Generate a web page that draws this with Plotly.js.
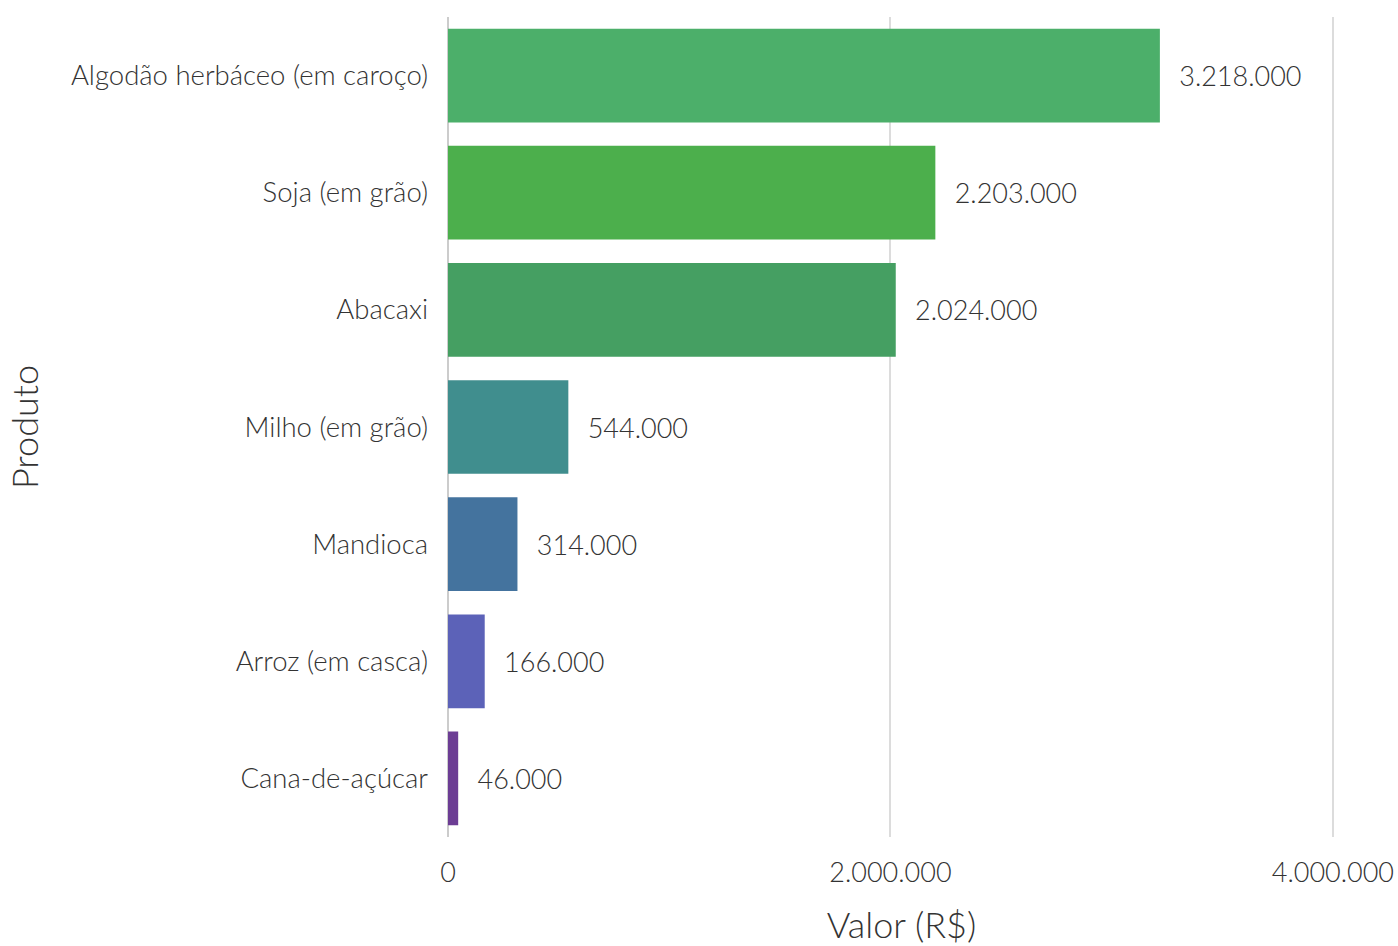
<!DOCTYPE html>
<html>
<head>
<meta charset="utf-8">
<script src="https://cdn.plot.ly/plotly-3.0.1.min.js"></script>
<style>html,body{margin:0;padding:0;background:#fff;}#chart{width:1398px;height:946px;}</style>
</head>
<body>
<div id="chart"></div>
<script>
const produtos = ["Algodão herbáceo (em caroço)", "Soja (em grão)", "Abacaxi", "Milho (em grão)", "Mandioca", "Arroz (em casca)", "Cana-de-açúcar"];
const valores = [3218000, 2203000, 2024000, 544000, 314000, 166000, 46000];
const cores = ["#4caf6a", "#4caf4c", "#459f62", "#408e8e", "#44739e", "#5c62b8", "#6c3d94"];

function fmt(v){ return v.toString().replace(/\B(?=(\d{3})+(?!\d))/g, "."); }

const trace = {
  type: "bar",
  orientation: "h",
  y: produtos,
  x: valores,
  marker: {color: cores},
  text: valores.map(v => "\u00A0\u00A0\u200A" + fmt(v)),
  textposition: "outside",
  cliponaxis: false,
  textfont: {family: "Lato", size: 27, color: "#333", weight: 300},
  hoverinfo: "none"
};

const layout = {
  width: 1398, height: 946,
  margin: {l: 448, r: 43, t: 17, b: 109},
  paper_bgcolor: "#fff", plot_bgcolor: "#fff",
  separators: ",.",
  bargap: 0.2,
  showlegend: false,
  font: {family: "Lato", color: "#333", weight: 300},
  xaxis: {
    range: [0, 4100000],
    tickvals: [0, 2000000, 4000000],
    ticktext: ["0", "2.000.000", "4.000.000"],
    showgrid: true, gridcolor: "#dcdcdc", gridwidth: 2,
    zeroline: true, zerolinecolor: "#cccccc", zerolinewidth: 2,
    showline: false, ticks: "",
    ticklabelstandoff: 17,
    tickfont: {family: "Lato", size: 27, color: "#333", weight: 300},
    title: {text: "Valor (R$)", font: {family: "Lato", size: 36, color: "#333", weight: 300}, standoff: 32}
  },
  yaxis: {
    autorange: "reversed",
    showgrid: false, zeroline: false, showline: false, ticks: "",
    ticklabelstandoff: 19,
    tickfont: {family: "Lato", size: 27.5, color: "#333", weight: 300},
    title: {text: "Produto", font: {family: "Lato", size: 36, color: "#333", weight: 300}, standoff: 21}
  }
};

Plotly.newPlot("chart", [trace], layout, {displayModeBar: false, staticPlot: true});
</script>
</body>
</html>
